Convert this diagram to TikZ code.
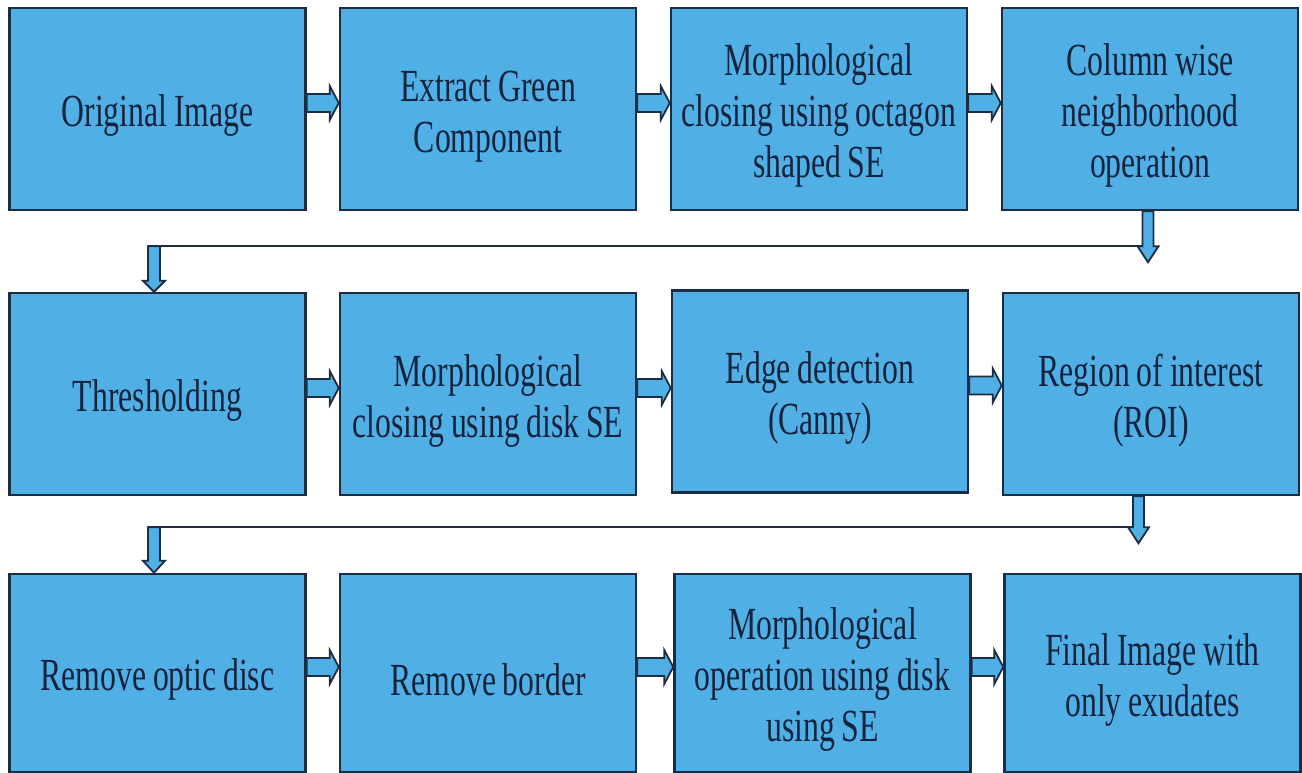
\documentclass[tikz,border=0pt]{standalone}
\usepackage{fontspec}
\setmainfont{Liberation Serif}[FakeStretch=0.69,WordSpace=0.85]
\usetikzlibrary{calc}
\definecolor{boxblue}{RGB}{80,176,230}
\definecolor{edge}{RGB}{28,44,66}
\definecolor{txt}{RGB}{20,36,62}
\newcommand\tup{\rule{0pt}{45pt}}
\newcommand\harrowpath[2]{%
 \draw[arr] let \p1=($(#1.east)+(0,-6)$), \p2=(#2.west) in
 (\x1,\y1+9pt) -- (\x2-9pt,\y1+9pt) -- (\x2-9pt,\y1+17pt) -- (\x2,\y1) -- (\x2-9pt,\y1-17pt) -- (\x2-9pt,\y1-9pt) -- (\x1,\y1-9pt) -- cycle;}
\newcommand\varrowpath[5]{%
 \draw[arr] let \p1=(#1), \p2=(#2) in
 (\x1-#3,\y1) -- (\x1-#3,\y2+#5) -- (\x1-#4,\y2+#5) -- (\x1,\y2) -- (\x1+#4,\y2+#5) -- (\x1+#3,\y2+#5) -- (\x1+#3,\y1) -- cycle;}
\begin{document}
\begin{tikzpicture}[x=1pt,y=-1pt,
 box/.style={draw=edge, line width=2.5pt, fill=boxblue, minimum width=296pt, minimum height=202pt, inner sep=0pt, align=center, text=txt, font=\fontsize{46}{51}\selectfont},
 arr/.style={draw=edge, line width=1.8pt, fill=boxblue, line join=miter},
 link/.style={draw=edge, line width=2pt}]
\useasboundingbox (0,0) rectangle (1302,773);
\fill[white] (0,0) rectangle (1302,773);
% row 1
\node[box] (a1) at (157.5,109) {\tup Original Image};
\node[box] (a2) at (488,109) {\tup Extract Green\\Component};
\node[box] (a3) at (819,109) {\tup Morphological\\closing using octagon\\shaped SE};
\node[box] (a4) at (1150,109) {\tup Column wise\\neighborhood\\operation};
% row 2
\node[box] (b1) at (157.5,394) {\tup Thresholding};
\node[box] (b2) at (488,394) {\tup Morphological\\closing using disk SE};
\node[box] (b3) at (820,391.5) {\tup Edge detection\\(Canny)};
\node[box] (b4) at (1151,394) {\tup Region of interest\\(ROI)};
% row 3
\node[box, minimum height=198pt] (c1) at (157.5,673) {\tup Remove optic disc};
\node[box, minimum height=198pt] (c2) at (488,673) {\tup Remove border};
\node[box, minimum height=198pt] (c3) at (822.5,673) {\tup Morphological\\operation using disk\\using SE};
\node[box, minimum height=198pt] (c4) at (1152.5,673) {\tup Final Image with\\only exudates};
% horizontal arrows
\harrowpath{a1}{a2}
\harrowpath{a2}{a3}
\harrowpath{a3}{a4}
\harrowpath{b1}{b2}
\harrowpath{b2}{b3}
\harrowpath{b3}{b4}
\harrowpath{c1}{c2}
\harrowpath{c2}{c3}
\harrowpath{c3}{c4}
% row 1 -> row 2
\coordinate (r1top) at ($(a4.south)+(-2,0)$);
\coordinate (j1) at ($(r1top)+(0,35)$);
\coordinate (r1tip) at ($(j1)+(0,16)$);
\coordinate (l1top) at ($(j1 -| b1.north)+(-3.5,0)$);
\coordinate (l1tip) at ($(b1.north)+(-3.5,0)$);
\draw[link] ($(l1top)+(-6,0)$) -- ($(j1)+(-5.5,0)$);
\varrowpath{r1top}{r1tip}{5.5pt}{10.5pt}{16pt}
\varrowpath{l1top}{l1tip}{6pt}{11pt}{11pt}
% row 2 -> row 3
\coordinate (r2top) at ($(b4.south)+(-12.5,0)$);
\coordinate (j2) at ($(r2top)+(0,31)$);
\coordinate (r2tip) at ($(j2)+(0,16)$);
\coordinate (l2top) at ($(j2 -| c1.north)+(-3.5,0)$);
\coordinate (l2tip) at ($(c1.north)+(-3.5,0)$);
\draw[link] ($(l2top)+(-6,0)$) -- ($(j2)+(-5.5,0)$);
\varrowpath{r2top}{r2tip}{5.5pt}{10.5pt}{16pt}
\varrowpath{l2top}{l2tip}{6pt}{11pt}{12pt}
\end{tikzpicture}
\end{document}
